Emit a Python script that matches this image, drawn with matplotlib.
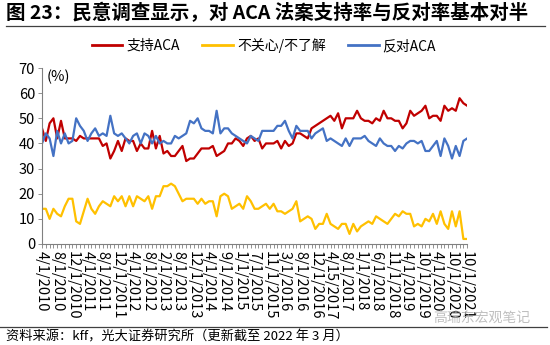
import matplotlib
matplotlib.use("Agg")
import matplotlib.pyplot as plt
from matplotlib.lines import Line2D

plt.rcParams['font.family'] = ['Noto Sans CJK SC', 'DejaVu Sans']

support = [46, 41, 48, 50, 42, 49, 42, 42, 42, 41, 43, 42, 42, 42, 42, 42, 39, 40, 34, 37,
           41, 37, 42, 41, 41, 37, 40, 38, 38, 45, 38, 43, 36, 37, 35, 35, 37, 39, 33, 34,
           34, 36, 38, 38, 38, 39, 35, 36, 37, 40, 40, 42, 41, 39, 42, 43, 41, 42, 38, 40,
           40, 40, 41, 38, 41, 39, 40, 44, 44, 43, 42, 46, 47, 48, 49, 50, 51, 49, 52, 46,
           50, 50, 50, 53, 50, 49, 49, 48, 50, 49, 53, 50, 50, 49, 49, 46, 48, 53, 51, 52,
           53, 55, 50, 51, 51, 49, 55, 53, 54, 53, 58, 56, 55]
unsure = [14, 14, 10, 14, 12, 11, 15, 18, 18, 9, 8, 13, 18, 14, 12, 15, 17, 16, 15, 19,
          17, 19, 15, 19, 15, 19, 18, 17, 19, 14, 19, 19, 23, 23, 24, 23, 20, 17, 18, 18,
          18, 16, 18, 16, 17, 17, 11, 19, 20, 19, 14, 15, 16, 14, 19, 17, 14, 14, 15, 16,
          14, 16, 13, 13, 12, 13, 14, 17, 9, 10, 11, 10, 6, 8, 8, 12, 8, 7, 6, 8,
          8, 4, 8, 5, 7, 8, 9, 8, 11, 10, 9, 8, 10, 12, 11, 13, 12, 12, 7, 8,
          7, 10, 9, 12, 8, 13, 8, 6, 13, 7, 13, 2, 2]
oppose = [40, 44, 42, 35, 45, 40, 44, 40, 41, 50, 47, 45, 41, 44, 46, 43, 44, 43, 51, 44,
          43, 44, 42, 40, 43, 44, 40, 44, 43, 40, 43, 40, 41, 40, 40, 43, 42, 43, 44, 49,
          48, 50, 46, 45, 45, 44, 53, 44, 46, 46, 44, 43, 42, 41, 40, 43, 42, 41, 45, 45,
          45, 45, 47, 47, 49, 45, 42, 47, 45, 45, 45, 42, 44, 45, 46, 41, 42, 41, 40, 39,
          42, 39, 42, 42, 42, 43, 41, 40, 39, 42, 40, 39, 39, 37, 39, 38, 40, 41, 41, 40,
          41, 37, 37, 39, 41, 35, 42, 39, 34, 39, 35, 41, 42]
tick_labels = ["4/1/2010", "8/1/2010", "12/1/2010", "4/1/2011", "8/1/2011", "12/1/2011",
               "4/1/2012", "8/1/2012", "2/1/2013", "8/1/2013", "12/1/2013", "4/1/2014",
               "9/1/2014", "1/1/2015", "7/1/2015", "11/1/2015", "3/1/2016", "8/1/2016",
               "12/1/2016", "4/15/2017", "8/1/2017", "1/1/2018", "6/1/2018", "11/1/2018",
               "4/1/2019", "10/1/2019", "4/1/2020", "10/1/2020", "10/1/2021"]
series_names = ["支持ACA", "不关心/不了解", "反对ACA"]
colors = ["#C00000", "#FFC000", "#4472C4"]

fig = plt.figure(figsize=(5.5, 3.45), dpi=100)
ax = fig.add_axes([0.0764, 0.2928, 0.773, 0.510])

x = list(range(len(support)))
for vals, c in zip([support, unsure, oppose], colors):
    ax.plot(x, vals, color=c, lw=1.6, solid_joinstyle='round')

ax.set_xlim(0, len(support) - 1)
ax.set_ylim(0, 70)
ax.set_yticks(range(0, 71, 10))
ax.set_xticks(x, minor=True)
ax.set_xticks(range(0, len(support), 4))
ax.set_xticklabels(tick_labels, rotation=270, fontsize=10.5)
ax.tick_params(axis='x', which='both', length=3, width=0.6, color='#808080', pad=2)
ax.tick_params(axis='y', length=3, width=0.6, color='#808080', labelsize=10.5, pad=2)
for s in ['top', 'right']:
    ax.spines[s].set_visible(False)
for s in ['left', 'bottom']:
    ax.spines[s].set_color('#808080')
    ax.spines[s].set_linewidth(0.8)
ax.text(0.012, 0.99, "(%)", transform=ax.transAxes, ha='left', va='top', fontsize=10.5)

handles = [Line2D([], [], color=c, lw=2) for c in colors]
fig.legend(handles, series_names, loc='center', bbox_to_anchor=(0.48, 0.868), ncol=3,
           frameon=False, fontsize=10, handlelength=2.2, handletextpad=0.3, columnspacing=1.6)

fig.text(0.01, 0.962, "图 23：民意调查显示，对 ACA 法案支持率与反对率基本对半",
         fontsize=14, fontweight='bold', ha='left', va='center')
fig.add_artist(Line2D([0.01, 0.99], [0.925, 0.925], color='#404040', lw=0.9))
fig.add_artist(Line2D([0.0, 0.995], [0.052, 0.052], color='#404040', lw=0.9))
fig.text(0.01, 0.022, "资料来源：kff，光大证券研究所（更新截至 2022 年 3 月）",
         fontsize=9.5, ha='left', va='center')
fig.text(0.965, 0.078, "高瑞东宏观笔记", fontsize=10, ha='right', va='center',
         color='#b0b0b0', alpha=0.8)

fig.savefig("out.png", dpi=100)
